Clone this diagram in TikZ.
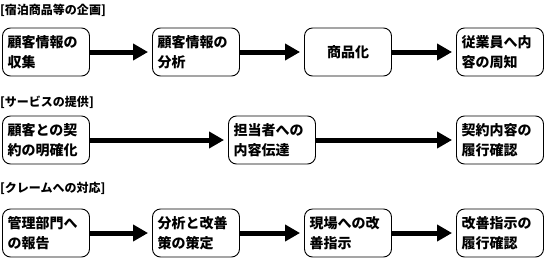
\documentclass[tikz,border=0pt]{standalone}
\usepackage{fontspec}
\setmainfont{Noto Sans CJK JP}
\usetikzlibrary{arrows.meta}
\tikzset{
  box/.style={draw, line width=0.9pt, rounded corners=8pt, minimum width=87pt, minimum height=48pt,
    text width=77pt, inner xsep=5pt, align=left, font=\bfseries\fontsize{14pt}{20pt}\selectfont},
  cbox/.style={box, align=center},
  ttl/.style={anchor=west, inner sep=0pt, font=\bfseries\fontsize{12pt}{14pt}\selectfont},
  flow/.style={line width=5pt, -{Triangle[length=15pt,width=16pt]}, shorten >=4pt}
}
\begin{document}
\begin{tikzpicture}[x=1pt,y=-1pt]
\useasboundingbox (0,0) rectangle (546,258);
% row 1
\node[ttl] (t1) at (0,10) {[宿泊商品等の企画]};
\node[box] (a1) at (46,52) {顧客情報の\\収集};
\node[box] (a2) at (196,52) {顧客情報の\\分析};
\node[cbox] (a3) at (348,52) {商品化};
\node[box] (a4) at (500,52) {従業員へ内\\容の周知};
\draw[flow] (a1) -- (a2);
\draw[flow] (a2) -- (a3);
\draw[flow] (a3) -- (a4);
% row 2
\node[ttl] (t2) at (0,102) {[サービスの提供]};
\node[box] (b1) at (46,140) {顧客との契\\約の明確化};
\node[box] (b2) at (272,140) {担当者への\\内容伝達};
\node[box] (b3) at (500,140) {契約内容の\\履行確認};
\draw[flow] (b1) -- (b2);
\draw[flow] (b2) -- (b3);
% row 3
\node[ttl] (t3) at (0,188) {[クレームへの対応]};
\node[box] (c1) at (46,233) {管理部門へ\\の報告};
\node[box] (c2) at (196,233) {分析と改善\\策の策定};
\node[box] (c3) at (348,233) {現場への改\\善指示};
\node[box] (c4) at (500,233) {改善指示の\\履行確認};
\draw[flow] (c1) -- (c2);
\draw[flow] (c2) -- (c3);
\draw[flow] (c3) -- (c4);
\end{tikzpicture}
\end{document}
